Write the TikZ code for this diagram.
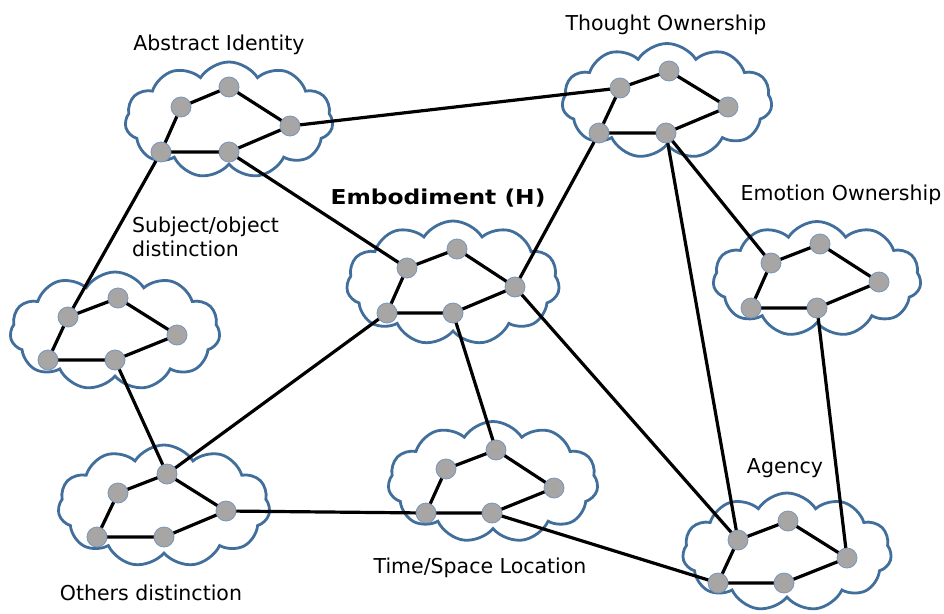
\documentclass[tikz,border=0pt]{standalone}
\usepackage{fontspec}
\setmainfont{DejaVu Sans}
\newfontfamily\boldwide[FakeStretch=1.14]{DejaVu Sans Bold}
\usetikzlibrary{shapes.symbols}
\definecolor{cloudblue}{RGB}{65,110,155}
\definecolor{dotgray}{RGB}{168,165,165}
\definecolor{dotrim}{RGB}{120,150,185}
\tikzset{
  cloudbox/.style={cloud, cloud puffs=11, cloud puff arc=115, draw=cloudblue, line width=2.8pt, fill=white, inner sep=0pt, aspect=1.8},
  dot/.style={circle, fill=dotgray, draw=dotrim, line width=0.8pt, minimum size=20pt, inner sep=0pt},
  link/.style={line width=3.2pt, black},
  lbl/.style={font=\fontsize{20.5}{24}\selectfont, inner sep=0pt, anchor=base}
}
\begin{document}
\begin{tikzpicture}[x=1pt,y=-1pt]
\useasboundingbox (0,0) rectangle (944,613);
% clouds
\node[cloudbox, minimum width=208pt, minimum height=116pt] (cA) at (229,120) {};
\node[cloudbox, minimum width=210pt, minimum height=115pt] (cB) at (667,101) {};
\node[cloudbox, minimum width=210pt, minimum height=118pt] (cC) at (115,331) {};
\node[cloudbox, minimum width=213pt, minimum height=124pt] (cD) at (453,283) {};
\node[cloudbox, minimum width=208pt, minimum height=115pt] (cE) at (817,279) {};
\node[cloudbox, minimum width=212pt, minimum height=122pt] (cF) at (164,506) {};
\node[cloudbox, minimum width=210pt, minimum height=121pt] (cG) at (493,482) {};
\node[cloudbox, minimum width=209pt, minimum height=118pt] (cH) at (787,552) {};
% dots (coordinates)
\foreach \n/\x/\y in {
 a1/181/107, a2/229/87, a3/290/126, a4/161/152, a5/229/152,
 b1/620/88, b2/669/71, b3/728/107, b4/599/133, b5/666/133,
 c1/68/317, c2/118/298, c3/177/335, c4/48/360, c5/115/360,
 d1/407/268, d2/457/249, d3/515/287, d4/387/313, d5/453/313,
 e1/771/263, e2/820/244, e3/879/282, e4/751/308, e5/817/308,
 f1/118/493, f2/167/474, f3/226/511, f4/97/537, f5/164/537,
 g1/446/469, g2/496/450, g3/554/488, g4/426/513, g5/492/513,
 h1/738/540, h2/788/521, h3/847/558, h4/718/583, h5/784/583}
 {\coordinate (\n) at (\x,\y);}
% links inside clouds
\foreach \c in {a,b,c,d,e,f,g,h}{
 \draw[link] (\c1) -- (\c2) -- (\c3) -- (\c5) -- (\c4) -- cycle;
}
% links between clouds
\draw[link] (a3) -- (b1);
\draw[link] (a4) -- (c1);
\draw[link] (a5) -- (d1);
\draw[link] (b4) -- (d3);
\draw[link] (b5) -- (e1);
\draw[link] (b5) -- (h1);
\draw[link] (c5) -- (f2);
\draw[link] (d5) -- (g2);
\draw[link] (d4) -- (f2);
\draw[link] (d3) -- (h1);
\draw[link] (e5) -- (h3);
\draw[link] (f3) -- (g4);
\draw[link] (g5) -- (h4);
% dots
\foreach \c in {a,b,c,d,e,f,g,h}{
 \foreach \i in {1,...,5}{
  \node[dot] (n\c\i) at (\c\i) {};
 }
}
% labels
\node[lbl] (tA) at (219,50) {Abstract Identity};
\node[lbl] (tB) at (666,30) {Thought Ownership};
\node[lbl, anchor=base west] (tC1) at (132,232) {Subject/object};
\node[lbl, anchor=base west] (tC2) at (132,256) {distinction};
\node[lbl, font=\fontsize{20.5}{24}\boldwide] (tD) at (438,204) {Embodiment (H)};
\node[lbl] (tE) at (841,200) {Emotion Ownership};
\node[lbl] (tH) at (785,473) {Agency};
\node[lbl] (tG) at (480,573) {Time/Space Location};
\node[lbl] (tF) at (151,600) {Others distinction};
\end{tikzpicture}
\end{document}
